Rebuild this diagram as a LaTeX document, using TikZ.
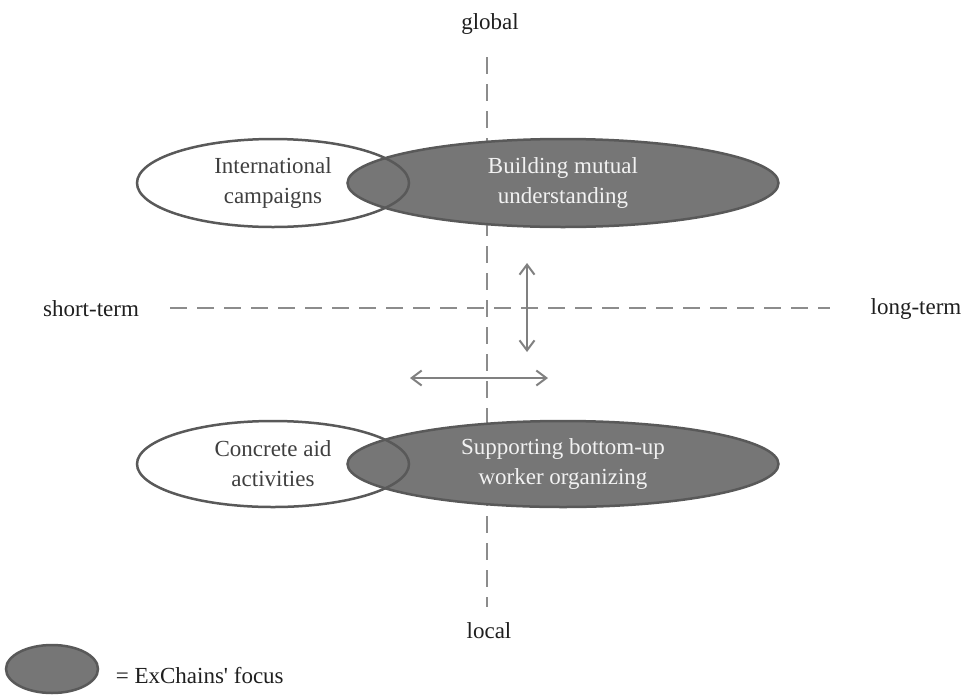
\documentclass[tikz,border=0pt]{standalone}
\usepackage{fontspec}
\setmainfont{Liberation Serif}
\usetikzlibrary{positioning}
\usetikzlibrary{arrows.meta,shapes}
\definecolor{focusgray}{HTML}{767676}
\definecolor{rimgray}{HTML}{595959}
\definecolor{axisgray}{HTML}{8C8C8C}
\definecolor{arrowgray}{HTML}{808080}
\definecolor{inkgray}{HTML}{3F3F3F}

\begin{document}
\begin{tikzpicture}[x=1pt,y=-1pt,
    every node/.style={font=\fontsize{23}{30}\selectfont},
    axis label/.style={text=black!88},
    axis line/.style={draw=axisgray,line width=2.5pt,dash pattern=on 17pt off 10pt},
    focus node/.style={ellipse,draw=rimgray,line width=2.5pt,fill=focusgray,text=white!95!black,align=center,inner sep=0pt},
    other node/.style={ellipse,draw=rimgray,line width=2.5pt,text=inkgray,align=center,inner sep=0pt},
    shift arrow/.style={draw=arrowgray,line width=2pt,{Straight Barb[length=10pt,width=15pt]}-{Straight Barb[length=10pt,width=15pt]}}]
    \useasboundingbox (0,0) rectangle (969,694);

    % axes
    \node[axis label] (global) at (490,24) {global};
    \node[axis label] (local) at (489,631) {local};
    \node[axis label] (short) at (91,309) {short-term};
    \node[axis label] (long) at (916,309) {long-term};
    \coordinate (vtop) at (487,57);
    \coordinate (vbot) at (487,607);
    \coordinate (hleft) at (170,308);
    \coordinate (hright) at (830,308);
    \path[axis line] (vtop) -- (vbot) (hleft) -- (hright);

    % global row
    \node[focus node,minimum width=431pt,minimum height=88pt] (mutual) at (563,183) {Building mutual\\understanding};
    \node[other node,minimum width=272pt,minimum height=88pt] (campaigns) at (273,183) {International\\campaigns};

    % local row
    \node[focus node,minimum width=431pt,minimum height=86pt] (bottomup) at (563,464) {Supporting bottom-up\\worker organizing};
    \node[other node,minimum width=272pt,minimum height=86pt] (aid) at (273,464) {Concrete aid\\activities};

    % shifts
    \coordinate (up) at (527,263);
    \coordinate (down) at (527,352);
    \coordinate (left) at (410,378);
    \coordinate (right) at (548,378);
    \path[shift arrow] (up) -- (down);
    \path[shift arrow] (left) -- (right);

    % legend
    \node[focus node,minimum width=92pt,minimum height=48pt] (key) at (52,669) {};
    \node[axis label,right=13pt of key,yshift=-7pt] (keytext) {= ExChains\textquotesingle\ focus};
\end{tikzpicture}
\end{document}
